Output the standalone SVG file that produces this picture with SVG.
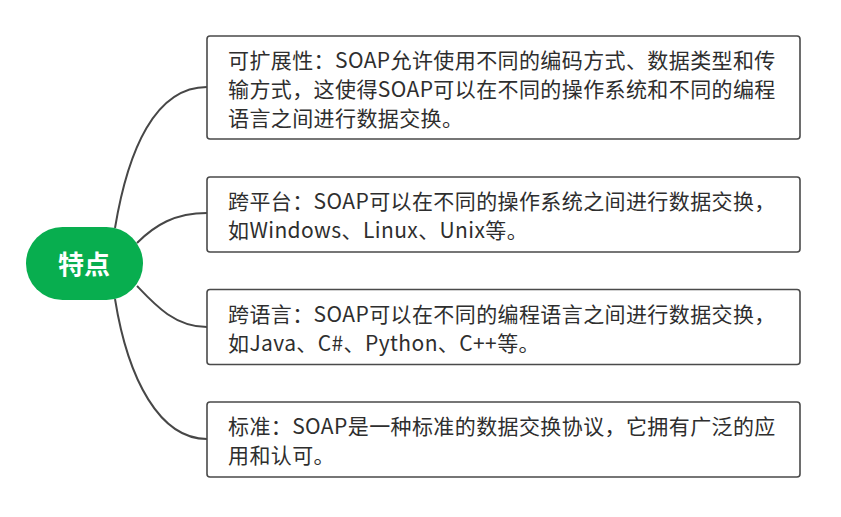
<svg xmlns="http://www.w3.org/2000/svg" width="841" height="517" viewBox="0 0 841 517">
<style>
.box{fill:#fff;stroke:#4a4a4a;stroke-width:1.6}
.t{font-family:"Microsoft YaHei","Noto Sans CJK SC",sans-serif;font-size:21px;letter-spacing:0.4px;fill:#2e2e2e}
.c{fill:none;stroke:#474747;stroke-width:2}
.root{font-family:"Microsoft YaHei","Noto Sans CJK SC",sans-serif;font-size:26px;font-weight:bold;fill:#fff}
</style>
<rect width="841" height="517" fill="#fff"/>
<g id="connectors">
<path class="c" d="M115,228 C128,150 155,87 207,87"/>
<path class="c" d="M137,243 C155,225 175,213 207,213"/>
<path class="c" d="M137,286 C155,305 175,327 207,327"/>
<path class="c" d="M115,299 C128,380 160,439 207,439"/>
</g>
<g id="root">
<rect x="26" y="227" width="117" height="73" rx="36.5" fill="#08ae4f"/>
<text class="root" x="84" y="274" text-anchor="middle">特点</text>
</g>
<g id="n1">
<rect class="box" x="207" y="36" width="593" height="103" rx="3"/>
<text class="t" x="228" y="68">可扩展性：SOAP允许使用不同的编码方式、数据类型和传</text>
<text class="t" x="228" y="97">输方式，这使得SOAP可以在不同的操作系统和不同的编程</text>
<text class="t" x="228" y="126">语言之间进行数据交换。</text>
</g>
<g id="n2">
<rect class="box" x="207" y="177" width="593" height="75" rx="3"/>
<text class="t" x="228" y="209">跨平台：SOAP可以在不同的操作系统之间进行数据交换，</text>
<text class="t" x="228" y="238">如Windows、Linux、Unix等。</text>
</g>
<g id="n3">
<rect class="box" x="207" y="289.5" width="593" height="75" rx="3"/>
<text class="t" x="228" y="322">跨语言：SOAP可以在不同的编程语言之间进行数据交换，</text>
<text class="t" x="228" y="351">如Java、C#、Python、C++等。</text>
</g>
<g id="n4">
<rect class="box" x="207" y="402" width="593" height="75" rx="3"/>
<text class="t" x="228" y="434">标准：SOAP是一种标准的数据交换协议，它拥有广泛的应</text>
<text class="t" x="228" y="463">用和认可。</text>
</g>
</svg>
